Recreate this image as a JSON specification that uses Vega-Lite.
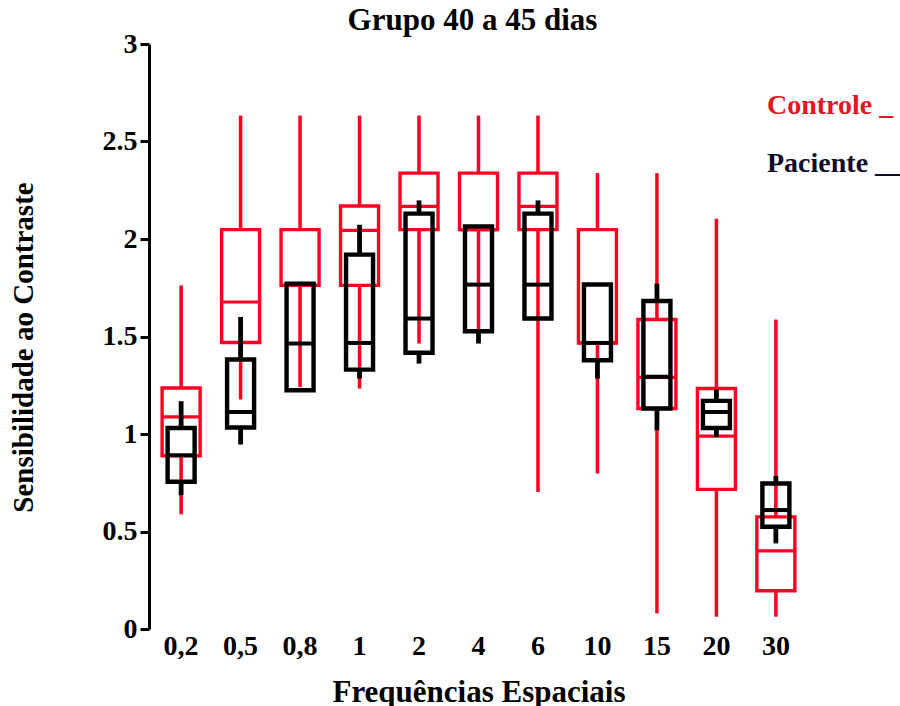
{
  "$schema": "https://vega.github.io/schema/vega-lite/v6.json",
  "width": 659,
  "height": 585,
  "autosize": {"type": "none"},
  "padding": {"left": 149, "top": 44, "right": 92, "bottom": 77},
  "background": "white",
  "config": {
    "view": {"stroke": null},
    "font": "Liberation Serif",
    "axis": {"grid": false},
    "axisY": {
      "domainColor": "#000000",
      "domainWidth": 3,
      "tickColor": "#000000",
      "tickWidth": 3,
      "tickSize": 9,
      "labelFont": "Liberation Serif",
      "labelFontSize": 28,
      "labelFontWeight": "bold",
      "labelColor": "#000000",
      "labelPadding": 3,
      "titleFont": "Liberation Serif",
      "titleFontSize": 29,
      "titleFontWeight": "bold",
      "titleColor": "#000000",
      "titlePadding": 64,
      "titleY": 303,
      "format": "~g"
    }
  },
  "title": {
    "text": "Grupo 40 a 45 dias",
    "font": "Liberation Serif",
    "fontSize": 31,
    "fontWeight": "bold",
    "color": "#000000",
    "anchor": "middle",
    "offset": -7,
    "dx": -6
  },
  "data": {
    "values": [
      {"freq": "0,2", "grupo": "Controle", "min": 0.588, "q1": 0.888, "med": 1.088, "q3": 1.236, "max": 1.762},
      {"freq": "0,5", "grupo": "Controle", "min": 1.177, "q1": 1.469, "med": 1.677, "q3": 2.048, "max": 2.633},
      {"freq": "0,8", "grupo": "Controle", "min": 1.241, "q1": 1.762, "med": 1.762, "q3": 2.048, "max": 2.633},
      {"freq": "1", "grupo": "Controle", "min": 1.233, "q1": 1.762, "med": 2.044, "q3": 2.169, "max": 2.633},
      {"freq": "2", "grupo": "Controle", "min": 1.464, "q1": 2.048, "med": 2.167, "q3": 2.338, "max": 2.633},
      {"freq": "4", "grupo": "Controle", "min": 1.53, "q1": 2.048, "med": 2.048, "q3": 2.338, "max": 2.633},
      {"freq": "6", "grupo": "Controle", "min": 0.702, "q1": 2.048, "med": 2.167, "q3": 2.338, "max": 2.633},
      {"freq": "10", "grupo": "Controle", "min": 0.797, "q1": 1.467, "med": 1.467, "q3": 2.048, "max": 2.338},
      {"freq": "15", "grupo": "Controle", "min": 0.08, "q1": 1.131, "med": 1.29, "q3": 1.587, "max": 2.338},
      {"freq": "20", "grupo": "Controle", "min": 0.063, "q1": 0.716, "med": 0.989, "q3": 1.233, "max": 2.104},
      {"freq": "30", "grupo": "Controle", "min": 0.063, "q1": 0.196, "med": 0.401, "q3": 0.575, "max": 1.587},
      {"freq": "0,2", "grupo": "Paciente", "min": 0.686, "q1": 0.755, "med": 0.891, "q3": 1.031, "max": 1.168},
      {"freq": "0,5", "grupo": "Paciente", "min": 0.946, "q1": 1.033, "med": 1.113, "q3": 1.382, "max": 1.6},
      {"freq": "0,8", "grupo": "Paciente", "min": 1.224, "q1": 1.224, "med": 1.464, "q3": 1.771, "max": 1.771},
      {"freq": "1", "grupo": "Paciente", "min": 1.284, "q1": 1.33, "med": 1.467, "q3": 1.92, "max": 2.073},
      {"freq": "2", "grupo": "Paciente", "min": 1.361, "q1": 1.417, "med": 1.592, "q3": 2.13, "max": 2.198},
      {"freq": "4", "grupo": "Paciente", "min": 1.464, "q1": 1.527, "med": 1.766, "q3": 2.065, "max": 2.065},
      {"freq": "6", "grupo": "Paciente", "min": 1.592, "q1": 1.592, "med": 1.766, "q3": 2.13, "max": 2.198},
      {"freq": "10", "grupo": "Paciente", "min": 1.284, "q1": 1.378, "med": 1.467, "q3": 1.767, "max": 1.767},
      {"freq": "15", "grupo": "Paciente", "min": 1.019, "q1": 1.131, "med": 1.293, "q3": 1.682, "max": 1.771},
      {"freq": "20", "grupo": "Paciente", "min": 0.985, "q1": 1.031, "med": 1.113, "q3": 1.17, "max": 1.228},
      {"freq": "30", "grupo": "Paciente", "min": 0.439, "q1": 0.524, "med": 0.61, "q3": 0.746, "max": 0.784}
    ]
  },
  "encoding": {
    "x": {
      "field": "freq",
      "type": "nominal",
      "sort": ["0,2", "0,5", "0,8", "1", "2", "4", "6", "10", "15", "20", "30"],
      "scale": {"paddingInner": 0, "paddingOuter": 0.04},
      "axis": {
        "title": "Frequências Espaciais",
        "titleFont": "Liberation Serif",
        "titleFontSize": 31,
        "titleFontWeight": "bold",
        "titleColor": "#000000",
        "titlePadding": 17,
        "labelFont": "Liberation Serif",
        "labelFontSize": 28,
        "labelFontWeight": "bold",
        "labelColor": "#000000",
        "labelAngle": 0,
        "labelPadding": 3,
        "domain": false,
        "ticks": false
      }
    },
    "color": {
      "field": "grupo",
      "type": "nominal",
      "scale": {"domain": ["Controle", "Paciente"], "range": ["#ff0022", "#000000"]},
      "legend": {
        "orient": "none",
        "legendX": 590,
        "legendY": 48,
        "title": null,
        "symbolOpacity": 0,
        "symbolSize": 1,
        "symbolStrokeWidth": 0,
        "labelOffset": 0,
        "labelFont": "Liberation Serif",
        "labelFontSize": 28,
        "labelFontWeight": "bold",
        "labelLimit": 400,
        "rowPadding": 30,
        "labelExpr": "datum.label == 'Controle' ? 'Controle _' : 'Paciente __'",
        "encode": {
          "labels": {
            "update": {
              "fill": {"signal": "datum.value == 'Controle' ? '#e4161e' : '#0c0c2e'"}
            }
          }
        }
      }
    }
  },
  "layer": [
    {
      "transform": [{"filter": "datum.grupo == 'Controle'"}],
      "mark": {"type": "rule", "strokeWidth": 3.5},
      "encoding": {
        "y": {"field": "min", "type": "quantitative", "title": "Sensibilidade ao Contraste", "scale": {"domain": [0, 3]}, "axis": {"values": [0, 0.5, 1, 1.5, 2, 2.5, 3]}},
        "y2": {"field": "q1"}
      }
    },
    {
      "transform": [{"filter": "datum.grupo == 'Controle'"}],
      "mark": {"type": "rule", "strokeWidth": 3.5},
      "encoding": {
        "y": {"field": "q3", "type": "quantitative", "title": "Sensibilidade ao Contraste", "scale": {"domain": [0, 3]}, "axis": {"values": [0, 0.5, 1, 1.5, 2, 2.5, 3]}},
        "y2": {"field": "max"}
      }
    },
    {
      "transform": [{"filter": "datum.grupo == 'Controle'"}],
      "mark": {"type": "bar", "filled": false, "strokeWidth": 3.4, "size": 38, "opacity": 1},
      "encoding": {
        "y": {"field": "q1", "type": "quantitative", "title": "Sensibilidade ao Contraste", "scale": {"domain": [0, 3]}, "axis": {"values": [0, 0.5, 1, 1.5, 2, 2.5, 3]}},
        "y2": {"field": "q3"}
      }
    },
    {
      "transform": [{"filter": "datum.grupo == 'Controle'"}],
      "mark": {"type": "tick", "thickness": 3.2, "size": 38, "opacity": 1},
      "encoding": {
        "y": {"field": "med", "type": "quantitative", "title": "Sensibilidade ao Contraste", "scale": {"domain": [0, 3]}, "axis": {"values": [0, 0.5, 1, 1.5, 2, 2.5, 3]}}
      }
    },
    {
      "transform": [{"filter": "datum.grupo == 'Paciente'"}],
      "mark": {"type": "rule", "strokeWidth": 4.8},
      "encoding": {
        "y": {"field": "min", "type": "quantitative", "title": "Sensibilidade ao Contraste", "scale": {"domain": [0, 3]}, "axis": {"values": [0, 0.5, 1, 1.5, 2, 2.5, 3]}},
        "y2": {"field": "q1"}
      }
    },
    {
      "transform": [{"filter": "datum.grupo == 'Paciente'"}],
      "mark": {"type": "rule", "strokeWidth": 4.8},
      "encoding": {
        "y": {"field": "q3", "type": "quantitative", "title": "Sensibilidade ao Contraste", "scale": {"domain": [0, 3]}, "axis": {"values": [0, 0.5, 1, 1.5, 2, 2.5, 3]}},
        "y2": {"field": "max"}
      }
    },
    {
      "transform": [{"filter": "datum.grupo == 'Paciente'"}],
      "mark": {"type": "bar", "filled": false, "strokeWidth": 4.4, "size": 27, "opacity": 1},
      "encoding": {
        "y": {"field": "q1", "type": "quantitative", "title": "Sensibilidade ao Contraste", "scale": {"domain": [0, 3]}, "axis": {"values": [0, 0.5, 1, 1.5, 2, 2.5, 3]}},
        "y2": {"field": "q3"}
      }
    },
    {
      "transform": [{"filter": "datum.grupo == 'Paciente'"}],
      "mark": {"type": "tick", "thickness": 4, "size": 27, "opacity": 1},
      "encoding": {
        "y": {"field": "med", "type": "quantitative", "title": "Sensibilidade ao Contraste", "scale": {"domain": [0, 3]}, "axis": {"values": [0, 0.5, 1, 1.5, 2, 2.5, 3]}}
      }
    }
  ]
}
